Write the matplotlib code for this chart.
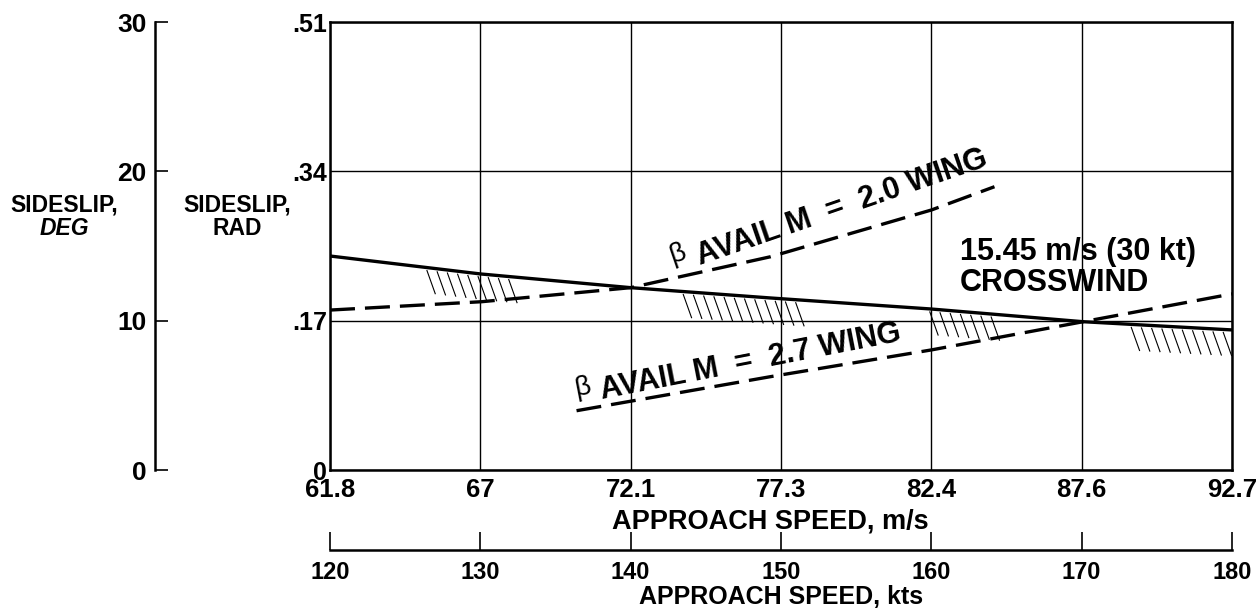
import numpy as np
import matplotlib.pyplot as plt

# approach speed in kts, sideslip in deg
kts_ticks = [120, 130, 140, 150, 160, 170, 180]
ms_labels = ["61.8", "67", "72.1", "77.3", "82.4", "87.6", "92.7"]
deg_ticks = [0, 10, 20, 30]
rad_labels = ["0", ".17", ".34", ".51"]

req_kts = [120, 130, 140, 149.3, 160, 170.1, 180]
req_deg = [14.33, 13.13, 12.21, 11.52, 10.78, 9.93, 9.38]

m20_kts = [120, 130.1, 140, 149.3, 160, 164.2]
m20_deg = [10.71, 11.27, 12.21, 14.28, 17.41, 18.97]

m27_kts = [136.4, 149.3, 160, 170.1, 180]
m27_deg = [3.97, 6.25, 8.04, 9.93, 11.79]

# hatched ranges under the required curve (kts)
hatch_ranges = [(126.45, 132.1), (143.5, 151.1), (159.9, 164.4), (173.3, 179.7)]

BOLD = ['Liberation Sans', 'DejaVu Sans']

W, H = 1259, 611
fig = plt.figure(figsize=(W / 100, H / 100), dpi=100)

def box(x0, y0, x1, y1):
    return [x0 / W, (H - y1) / H, (x1 - x0) / W, (y1 - y0) / H]

ax = fig.add_axes(box(330, 22, 1232, 470))
ax.set_xlim(120, 180)
ax.set_ylim(0, 30)
ax.set_xticks(kts_ticks)
ax.set_xticklabels(ms_labels)
ax.set_yticks(deg_ticks)
ax.set_yticklabels(rad_labels)
ax.tick_params(axis='x', length=0, pad=6, labelsize=18.5)
ax.tick_params(axis='y', length=0, pad=2, labelsize=18)
for lab in ax.get_xticklabels() + ax.get_yticklabels():
    lab.set_family(BOLD)
    lab.set_weight('bold')
ax.grid(True, color='black', lw=1.0)
for s in ax.spines.values():
    s.set_linewidth(1.8)

ax.plot(req_kts, req_deg, color='black', lw=2.4, solid_capstyle='butt')
ax.plot(m20_kts, m20_deg, color='black', lw=2.4, dashes=(7.5, 3))
ax.plot(m27_kts, m27_deg, color='black', lw=2.4, dashes=(7.5, 3))

for a, b in hatch_ranges:
    for xs in np.arange(a, b, 0.68):
        ys = np.interp(xs, req_kts, req_deg)
        ax.plot([xs, xs + 0.55], [ys - 0.2, ys - 1.75], color='black', lw=0.8)

ax.text(142.75, 13.85, "β", fontsize=20, rotation=19, family=BOLD,
        rotation_mode='anchor')
ax.text(144.61, 13.75, "AVAIL M  =  2.0 WING", fontsize=22, rotation=19,
        fontweight='bold', family=BOLD, rotation_mode='anchor')
ax.text(136.35, 4.95, "β", fontsize=20, rotation=11, family=BOLD,
        rotation_mode='anchor')
ax.text(138.09, 4.75, "AVAIL M  =  2.7 WING", fontsize=22, rotation=11,
        fontweight='bold', family=BOLD, rotation_mode='anchor')
ax.text(161.9, 15.6, "15.45 m/s (30 kt)\nCROSSWIND", fontsize=22,
        fontweight='bold', family=BOLD, va='top', linespacing=1.05)

ax.set_xlabel("APPROACH SPEED, m/s", fontsize=19.5, fontweight='bold',
              family=BOLD, labelpad=3)
ax.xaxis.set_label_coords(0.488, -0.085)

# degree scale on the far left
axd = fig.add_axes(box(155, 22, 156, 470))
axd.set_ylim(0, 30)
axd.set_yticks(deg_ticks)
axd.set_xticks([])
axd.tick_params(axis='y', direction='in', length=9, width=1.2, labelsize=19, pad=6)
for lab in axd.get_yticklabels():
    lab.set_family(BOLD)
    lab.set_weight('bold')
for k in ['top', 'right', 'bottom']:
    axd.spines[k].set_visible(False)
axd.spines['left'].set_linewidth(1.8)
axd.patch.set_visible(False)

# kts scale below
axk = fig.add_axes(box(330, 549, 1232, 550))
axk.set_xlim(120, 180)
axk.set_xticks(kts_ticks)
axk.set_yticks([])
axk.tick_params(axis='x', direction='in', length=13, width=1.2, labelsize=17, pad=8)
for lab in axk.get_xticklabels():
    lab.set_family(BOLD)
    lab.set_weight('bold')
for k in ['top', 'right', 'left']:
    axk.spines[k].set_visible(False)
axk.spines['bottom'].set_linewidth(1.8)
axk.patch.set_visible(False)
axk.set_xlabel("APPROACH SPEED, kts", fontsize=18, fontweight='bold',
               family=BOLD, labelpad=1)

fig.text(64 / W, 1 - 205 / H, "SIDESLIP,", fontsize=16.5, fontweight='bold',
         family=BOLD, ha='center', va='center')
fig.text(64 / W, 1 - 228 / H, "DEG", fontsize=16.5, fontweight='bold',
         style='italic', family=BOLD, ha='center', va='center')
fig.text(237 / W, 1 - 205 / H, "SIDESLIP,", fontsize=16.5, fontweight='bold',
         family=BOLD, ha='center', va='center')
fig.text(237 / W, 1 - 228 / H, "RAD", fontsize=16.5, fontweight='bold',
         family=BOLD, ha='center', va='center')

fig.savefig("out.png", dpi=100)
